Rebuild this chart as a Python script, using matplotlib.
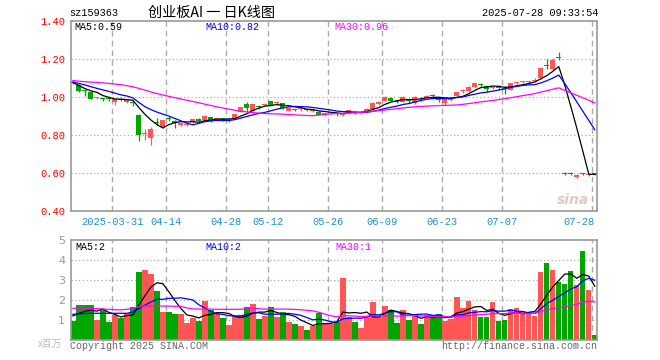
import numpy as np
import pandas as pd
import matplotlib
matplotlib.use("Agg")
import matplotlib.pyplot as plt

W, H = 660, 360

# ── Data ──────────────────────────────────────
holidays = ["2025-04-04", "2025-05-01", "2025-05-02", "2025-05-05", "2025-06-02"]
days = pd.bdate_range("2025-03-20", "2025-07-28")
days = days[~days.isin(pd.to_datetime(holidays))]

tick_dates = ["2025-03-31", "2025-04-14", "2025-04-28", "2025-05-12", "2025-05-26",
              "2025-06-09", "2025-06-23", "2025-07-07", "2025-07-28"]
tick_labels = ["2025-03-31", "04-14", "04-28", "05-12", "05-26",
               "06-09", "06-23", "07-07", "07-28"]

opens = [1.080, 1.065, 1.036, 1.030, 0.994, 0.991, 0.991, 0.975, 0.988, 0.976,
         0.974, 0.907, 0.808, 0.784, 0.868, 0.842, 0.890, 0.875, 0.852, 0.856,
         0.868, 0.886, 0.880, 0.896, 0.885, 0.891, 0.875, 0.891, 0.923, 0.963,
         0.930, 0.952, 0.959, 0.980, 0.972, 0.968, 0.930, 0.934, 0.937, 0.934,
         0.929, 0.924, 0.912, 0.915, 0.917, 0.908, 0.916, 0.920, 0.918, 0.923,
         0.937, 0.965, 0.982, 0.998, 0.978, 0.977, 0.983, 0.968, 1.001, 0.996,
         1.008, 1.000, 0.968, 0.988, 1.007, 1.032, 1.031, 1.052, 1.067, 1.058,
         1.047, 1.051, 1.048, 1.038, 1.076, 1.081, 1.081, 1.085, 1.100, 1.166,
         1.147, 1.214, 0.600, 0.600, 0.582, 0.597, 0.592, 0.597]
highs = [1.085, 1.068, 1.040, 1.032, 1.000, 0.998, 0.998, 0.990, 0.995, 0.987,
         0.985, 0.910, 0.832, 0.842, 0.889, 0.882, 0.900, 0.878, 0.866, 0.864,
         0.888, 0.889, 0.905, 0.898, 0.893, 0.893, 0.889, 0.912, 0.950, 0.977,
         0.967, 0.960, 0.968, 0.983, 0.982, 0.970, 0.944, 0.940, 0.946, 0.940,
         0.935, 0.926, 0.920, 0.922, 0.925, 0.918, 0.935, 0.928, 0.926, 0.942,
         0.975, 0.980, 1.008, 1.000, 0.986, 1.005, 0.992, 1.005, 1.004, 1.010,
         1.018, 1.003, 0.992, 0.996, 1.028, 1.043, 1.058, 1.075, 1.076, 1.060,
         1.058, 1.064, 1.058, 1.075, 1.082, 1.086, 1.088, 1.100, 1.160, 1.200,
         1.205, 1.240, 0.605, 0.608, 0.596, 0.600, 0.600, 0.600]
lows = [1.068, 1.030, 1.005, 0.990, 0.990, 0.980, 0.980, 0.961, 0.978, 0.972,
        0.955, 0.772, 0.777, 0.749, 0.852, 0.838, 0.876, 0.840, 0.848, 0.850,
        0.866, 0.870, 0.878, 0.868, 0.878, 0.874, 0.872, 0.889, 0.921, 0.924,
        0.928, 0.940, 0.952, 0.958, 0.962, 0.940, 0.928, 0.926, 0.930, 0.927,
        0.922, 0.905, 0.908, 0.910, 0.900, 0.904, 0.912, 0.912, 0.912, 0.920,
        0.935, 0.962, 0.980, 0.978, 0.968, 0.975, 0.970, 0.965, 0.978, 0.994,
        0.994, 0.973, 0.960, 0.982, 1.005, 1.022, 1.029, 1.050, 1.056, 1.030,
        1.045, 1.038, 1.020, 1.036, 1.072, 1.076, 1.077, 1.078, 1.098, 1.149,
        1.145, 1.196, 0.590, 0.590, 0.576, 0.590, 0.588, 0.590]
closes = [1.074, 1.035, 1.032, 0.993, 0.997, 0.989, 0.989, 0.989, 0.986, 0.986,
          0.971, 0.800, 0.812, 0.835, 0.866, 0.880, 0.888, 0.863, 0.863, 0.858,
          0.886, 0.875, 0.903, 0.877, 0.887, 0.877, 0.887, 0.910, 0.947, 0.945,
          0.965, 0.950, 0.961, 0.960, 0.974, 0.942, 0.942, 0.932, 0.939, 0.932,
          0.931, 0.907, 0.918, 0.917, 0.915, 0.915, 0.933, 0.918, 0.921, 0.940,
          0.972, 0.977, 1.003, 0.981, 0.976, 1.000, 0.981, 1.003, 0.999, 1.007,
          1.006, 0.986, 0.989, 0.990, 1.026, 1.034, 1.056, 1.073, 1.065, 1.046,
          1.056, 1.049, 1.046, 1.073, 1.078, 1.083, 1.083, 1.087, 1.155, 1.163,
          1.195, 1.208, 0.597, 0.596, 0.593, 0.594, 0.595, 0.594]
# volume, x 百万
volume = [0.97, 1.77, 1.77, 1.77, 1.02, 1.50, 0.92, 1.27, 1.12, 1.38,
          1.65, 3.42, 3.52, 3.32, 2.47, 1.42, 1.42, 1.32, 1.32, 0.87,
          1.12, 0.97, 1.97, 1.52, 1.33, 1.12, 0.77, 1.22, 1.27, 1.67,
          1.82, 1.07, 1.22, 1.67, 1.17, 1.42, 0.92, 0.82, 0.72, 0.52,
          0.72, 1.37, 0.82, 0.80, 0.92, 3.13, 1.17, 0.92, 0.62, 1.22,
          1.92, 1.17, 1.73, 1.52, 0.87, 1.52, 1.02, 1.27, 0.82, 1.27,
          1.27, 1.32, 0.97, 1.07, 2.17, 1.62, 1.97, 1.52, 1.17, 1.17,
          1.92, 0.97, 1.02, 1.57, 1.62, 1.47, 1.32, 1.22, 3.42, 3.87,
          3.52, 2.92, 2.82, 3.47, 2.77, 4.47, 2.52, 0.27]

# moving-average values before a full window is available
ma5_lead = [1.078, 1.062, 1.046, 1.034]
ma10_lead = [1.080, 1.073, 1.065, 1.056, 1.047, 1.039, 1.031, 1.022, 1.013]
ma30_lead = [1.088, 1.085, 1.082, 1.080, 1.078, 1.076, 1.073, 1.070, 1.066, 1.061,
             1.055, 1.047, 1.038, 1.028, 1.020, 1.012, 1.005, 0.998, 0.991, 0.985,
             0.978, 0.971, 0.964, 0.957, 0.950, 0.944, 0.938, 0.932, 0.926]
vma5_lead = [1.22, 1.35, 1.45, 1.50]
vma10_lead = [1.30, 1.32, 1.34, 1.35, 1.35, 1.35, 1.35, 1.35, 1.35]
vma30_lead = [1.60, 1.60, 1.60, 1.60, 1.58, 1.57, 1.55, 1.53, 1.52, 1.55,
              1.60, 1.68, 1.72, 1.72, 1.72, 1.71, 1.71, 1.70, 1.70, 1.62,
              1.57, 1.56, 1.56, 1.56, 1.55, 1.55, 1.55, 1.55, 1.55]

price_legend = ["MA5:0.59", "MA10:0.82", "MA30:0.96"]
vol_legend = ["MA5:2", "MA10:2", "MA30:1"]


def moving(values, n, lead):
    s = pd.Series(values).rolling(n).mean().to_numpy()
    s[:n - 1] = lead
    return s


RED, GREEN = "#ff5555", "#00a600"
MA_COLORS = ["black", "#0000ff", "#ff00ff"]
GRID = "#aaaaaa"
MONO = "Liberation Mono"
CJK = ["Noto Sans CJK SC", "DejaVu Sans"]

o = np.array(opens); c = np.array(closes)
h = np.array(highs); l = np.array(lows)
v = np.array(volume)
x = np.arange(1, len(c) + 1)
colors = np.where(c >= o, RED, GREEN)

day_str = [d.strftime("%Y-%m-%d") for d in days]
tick_pos = [day_str.index(d) + 1 for d in tick_dates]

fig = plt.figure(figsize=(W / 100, H / 100), dpi=100)


def px_axes(x0, y0, x1, y1):
    return fig.add_axes([x0 / W, 1 - y1 / H, (x1 - x0) / W, (y1 - y0) / H])


def style(ax):
    for s in ax.spines.values():
        s.set_color("#999999")
        s.set_linewidth(1.2)
    ax.set_xlim(0.64, 88.42)
    ax.set_xticks([])
    ax.tick_params(axis="y", length=0, pad=4)
    for p in tick_pos:
        ax.axvline(p - 0.45, color=GRID, lw=1.0, ls=(0, (4, 3)), zorder=0)


# ── Price panel ───────────────────────────────
ax = px_axes(70.7, 21.3, 597.3, 211.3)
style(ax)
ax.set_ylim(0.40, 1.40)
yt = [0.4, 0.6, 0.8, 1.0, 1.2, 1.4]
ax.set_yticks(yt)
ax.set_yticklabels([f"{t:.2f}" for t in yt], color="red", fontsize=7.6, family=MONO)
for t in yt[1:-1]:
    ax.axhline(t, color=GRID, lw=0.9, ls=(0, (1, 2)), zorder=0)

ax.vlines(x, l, h, colors=colors, lw=0.9, zorder=2)
body = np.maximum(np.abs(c - o), 0.005)
ax.bar(x, body, bottom=np.minimum(o, c), width=0.8, color=colors, lw=0, zorder=3)

for n, lead, col in zip([5, 10, 30], [ma5_lead, ma10_lead, ma30_lead], MA_COLORS):
    ax.plot(x, moving(c, n, lead), color=col, lw=0.9, zorder=4)

for p, lab in zip(tick_pos, tick_labels):
    last = p == tick_pos[-1]
    ax.text(p - 0.45 + (0.4 if last else 0), -0.057, lab, transform=ax.get_xaxis_transform(),
            ha="right" if last else "center", va="center", color="#1e8fd6",
            fontsize=7.5, family=MONO)

ax.text(0.985, 0.06, "sina", transform=ax.transAxes, ha="right", va="center",
        fontsize=10, fontweight="bold", style="italic", color="#d8b0b0", alpha=0.7)

# ── Volume panel ──────────────────────────────
axv = px_axes(70.7, 240.3, 597.3, 340.3)
style(axv)
axv.set_ylim(0, 5)
axv.set_yticks([1, 2, 3, 4, 5])
axv.set_yticklabels(["1", "2", "3", "4", "5"], color="#999999", fontsize=8)
for t in [1, 2, 3, 4]:
    axv.axhline(t, color=GRID, lw=0.9, ls=(0, (1, 2)), zorder=0)
axv.bar(x, v, width=0.9, color=colors, lw=0, zorder=2)
for n, lead, col in zip([5, 10, 30], [vma5_lead, vma10_lead, vma30_lead], MA_COLORS):
    axv.plot(x, moving(v, n, lead), color=col, lw=0.9, zorder=3)

# ── Texts ─────────────────────────────────────
def ftext(px, py, s, **kw):
    fig.text(px / W, 1 - py / H, s, va="center", **kw)

ftext(69, 13, "sz159363", fontsize=7.4, family=MONO)
ftext(148, 13, "创业板AI 一 日K线图", fontsize=10.2, family=CJK)
ftext(482, 13, "2025-07-28 09:33:54", fontsize=7.4, family=MONO)

for px, s, col in zip([74, 205, 334], price_legend, MA_COLORS):
    ftext(px, 27, s, fontsize=7.2, family=MONO, color=col)
for px, s, col in zip([75, 205, 335], vol_legend, MA_COLORS):
    ftext(px, 247, s, fontsize=7.2, family=MONO, color=col)

ftext(38, 344, "x百万", fontsize=7, color="#bbbbbb", family=CJK)
ftext(70, 346, "Copyright 2025 SINA.COM", fontsize=7.2, family=MONO, color="#666666")
ftext(441, 346, "http://finance.sina.com.cn", fontsize=7.2, family=MONO, color="#666666")

fig.savefig("out.png", dpi=100)
